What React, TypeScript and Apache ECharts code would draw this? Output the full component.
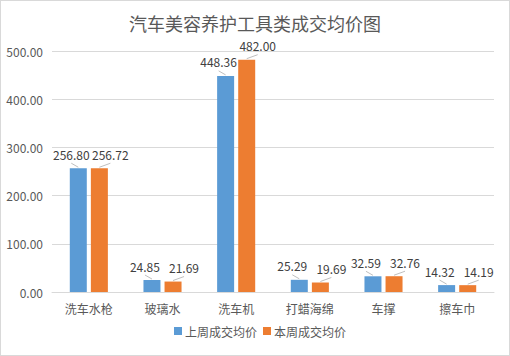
import React, { useEffect, useRef } from "react";
import * as echarts from "echarts";

const categories = ["洗车水枪", "玻璃水", "洗车机", "打蜡海绵", "车撑", "擦车巾"];
const lastWeek = [256.8, 24.85, 448.36, 25.29, 32.59, 14.32];
const thisWeek = [256.72, 21.69, 482.0, 19.69, 32.76, 14.19];
const seriesNames = ["上周成交均价", "本周成交均价"];
const titleText = "汽车美容养护工具类成交均价图";

const BAR_W = 17;
const BAR_GAP = 0.24;
const FONT = "'Noto Sans CJK SC', 'Microsoft YaHei', sans-serif";

export default function App() {
  const ref = useRef<HTMLDivElement>(null);
  useEffect(() => {
    document.body.style.margin = "0";
    const chart = echarts.init(ref.current!, null, { renderer: "svg" });
    const barSeries = (name: string, data: number[], color: string) => ({
      name,
      type: "bar",
      data,
      barWidth: BAR_W,
      barGap: BAR_GAP * 100 + "%",
      itemStyle: { color },
    });
    const halfStep = (BAR_W + BAR_W * BAR_GAP) / 2;
    const labelSeries = (data: number[], side: number, dx: number) => ({
      type: "custom",
      silent: true,
      z: 10,
      data: data.map((v, i) => [i, v]),
      encode: { x: 0, y: 1 },
      renderItem: (params: any, api: any) => {
        const idx = api.value(0);
        const v = api.value(1);
        const pt = api.coord([idx, v]);
        const bx = pt[0] + side * halfStep;
        const top = pt[1];
        const lx = bx + dx;
        return {
          type: "group",
          children: [
            {
              type: "line",
              shape: { x1: lx, y1: top - 5, x2: bx, y2: top - 1 },
              style: { stroke: "#bfbfbf", lineWidth: 1 },
            },
            {
              type: "text",
              style: {
                x: lx,
                y: top - 14,
                text: Number(v).toFixed(2),
                align: "center",
                verticalAlign: "middle",
                fill: "#404040",
                fontSize: 12,
                fontFamily: FONT,
              },
            },
          ],
        };
      },
    });
    chart.setOption({
      animation: false,
      title: {
        text: titleText,
        left: "center",
        top: 8,
        textStyle: { fontSize: 18, fontWeight: "normal", color: "#595959", fontFamily: FONT },
      },
      legend: {
        bottom: 13,
        left: 168,
        itemWidth: 8,
        itemHeight: 8,
        itemGap: 6,
        icon: "rect",
        textStyle: { fontSize: 12, color: "#595959", fontFamily: FONT, padding: [0, 0, 0, -2] },
        data: seriesNames,
      },
      grid: { left: 51, right: 15, top: 50, bottom: 63 },
      xAxis: {
        type: "category",
        data: categories,
        axisTick: { show: false },
        axisLine: { lineStyle: { color: "#d9d9d9" } },
        axisLabel: { color: "#595959", fontSize: 12, fontFamily: FONT, margin: 10 },
      },
      yAxis: {
        type: "value",
        min: 0,
        max: 500,
        interval: 100,
        axisLabel: {
          color: "#595959",
          fontSize: 12,
          fontFamily: FONT,
          formatter: (v: number) => v.toFixed(2),
          margin: 9,
        },
        splitLine: { lineStyle: { color: "#d9d9d9" } },
        axisLine: { show: false },
        axisTick: { show: false },
      },
      series: [
        barSeries(seriesNames[0], lastWeek, "#5B9BD5"),
        barSeries(seriesNames[1], thisWeek, "#ED7D31"),
        labelSeries(lastWeek, -1, -7),
        labelSeries(thisWeek, 1, 11),
      ],
    });
    return () => chart.dispose();
  }, []);
  return (
    <div
      style={{
        width: 510,
        height: 356,
        boxSizing: "border-box",
        border: "1px solid #d9d9d9",
        background: "#fff",
      }}
    >
      <div ref={ref} style={{ width: 508, height: 354 }} />
    </div>
  );
}
